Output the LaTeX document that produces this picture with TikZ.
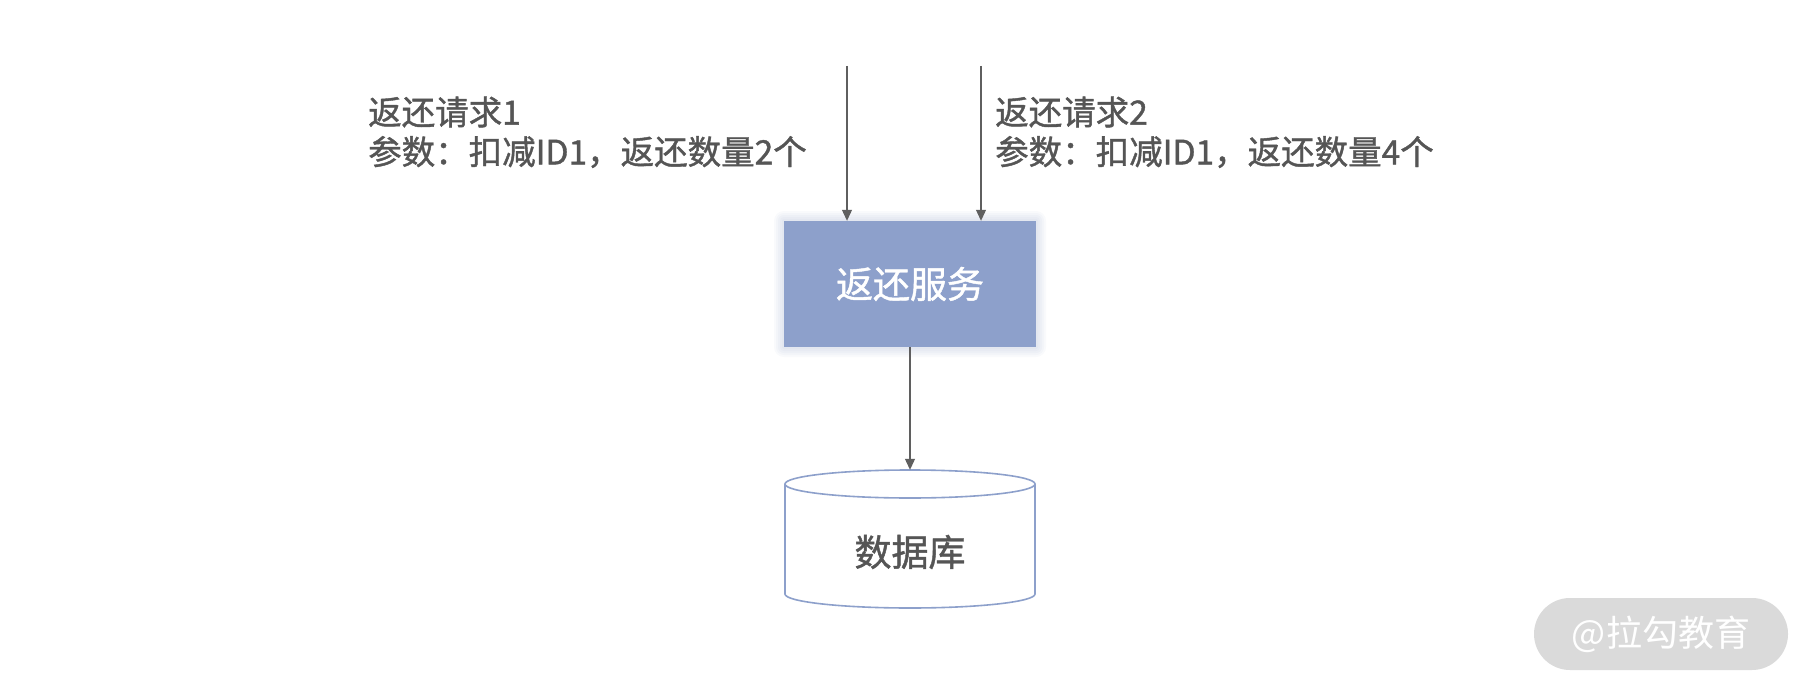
\documentclass[tikz,border=0pt]{standalone}
\usepackage{fontspec}
\newfontfamily\cjk{Noto Sans CJK SC}
\newfontfamily\cjkm[FakeBold=1.2]{Noto Sans CJK SC}
\usetikzlibrary{arrows.meta}
\definecolor{boxblue}{RGB}{141,160,203}
\definecolor{txtgrey}{RGB}{85,85,85}
\definecolor{linegrey}{RGB}{95,95,95}
\definecolor{wmgrey}{RGB}{218,218,218}
\begin{document}
\begin{tikzpicture}[x=1pt,y=-1pt,
  lbl/.style={anchor=west,inner sep=0pt,text=txtgrey,font=\cjkm\fontsize{33.5}{40}\selectfont},
  conn/.style={draw=linegrey,line width=1.1pt,-{Triangle[length=11pt,width=10pt]}},
  svc/.style={fill=boxblue,draw=none,minimum width=252pt,minimum height=126pt,inner sep=0pt,
    text=white,font=\cjkm\fontsize{37}{44}\selectfont},
  glow/.style={fill=boxblue,fill opacity=0.05,draw=none,rounded corners=#1},
  dbtext/.style={draw=none,minimum width=250pt,minimum height=138pt,inner sep=0pt},
  dbborder/.style={draw=boxblue,line width=1.6pt}]
\useasboundingbox[fill=white] (0,0) rectangle (1814,695);

% glow behind service box
\foreach \g in {2,4,6,8,10}
  \fill[glow=\g pt] (784-\g,221-\g) rectangle (1036+\g,347+\g);
% service box
\node[svc] (svc) at (910,284) {返还服务};

% labels
\node[lbl] (r1a) at (368,112) {返还请求1};
\node[lbl] (r1b) at (368,152) {参数：扣减ID1，返还数量2个};
\node[lbl] (r2a) at (995,112) {返还请求2};
\node[lbl] (r2b) at (995,152) {参数：扣减ID1，返还数量4个};

% incoming connector start points
\coordinate (in1) at (847,66);
\coordinate (in2) at (981,66);
\draw[conn] (in1) -- (in1 |- svc.north);
\draw[conn] (in2) -- (in2 |- svc.north);

% database cylinder
\node[dbtext] (db) at (910,539) {};
\fill[white,dbborder]
  (785,484) -- (785,594) arc[start angle=180,end angle=360,x radius=125,y radius=-14]
  -- (1035,484) arc[start angle=0,end angle=180,x radius=125,y radius=-14] -- cycle;
\draw[dbborder] (785,484) arc[start angle=180,end angle=360,x radius=125,y radius=-14];
\node[text=txtgrey,font=\cjkm\fontsize{37}{44}\selectfont,inner sep=0pt] (dblabel) at (910,552) {数据库};

\draw[conn] (svc.south) -- (db.north);

% watermark
\node[fill=wmgrey,rounded corners=36pt,minimum width=254pt,minimum height=72pt,inner sep=0pt,
  text=white,font=\cjk\fontsize{36}{40}\selectfont] (wm) at (1661,634) {@拉勾教育};
\end{tikzpicture}
\end{document}
